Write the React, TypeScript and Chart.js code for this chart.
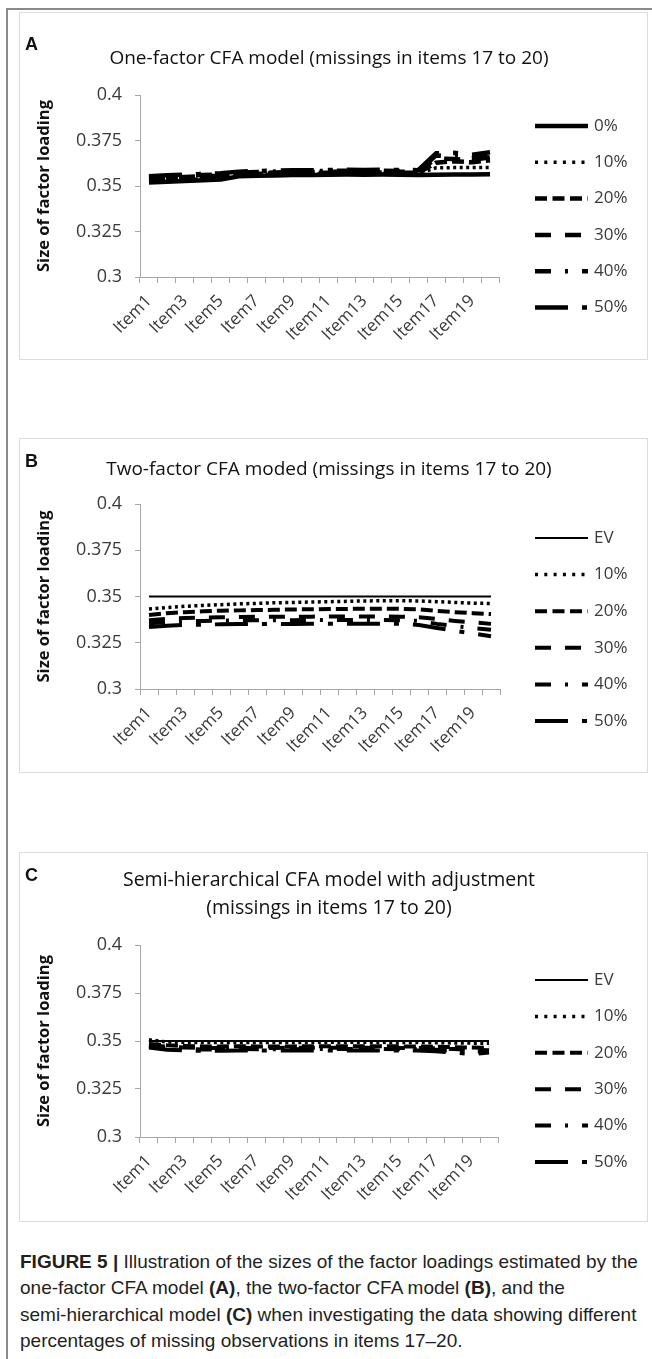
import React, { useEffect, useRef } from "react";
import { Chart, registerables } from "chart.js";

Chart.register(...registerables);

// ---------- data ----------
const items = [
  "Item1", "Item2", "Item3", "Item4", "Item5", "Item6", "Item7", "Item8", "Item9", "Item10",
  "Item11", "Item12", "Item13", "Item14", "Item15", "Item16", "Item17", "Item18", "Item19", "Item20",
];
const yTickValues = [0.3, 0.325, 0.35, 0.375, 0.4];
const yTickLabels = ["0.3", "0.325", "0.35", "0.375", "0.4"];

const legendA = ["0%", "10%", "20%", "30%", "40%", "50%"];
const legendBC = ["EV", "10%", "20%", "30%", "40%", "50%"];

// Panel A: one-factor CFA model
const oneF_0 = [0.3519, 0.3524, 0.3528, 0.3531, 0.3535, 0.3553, 0.3556, 0.3558, 0.356, 0.3561, 0.3562, 0.3563, 0.3562, 0.3563, 0.3562, 0.3561, 0.3562, 0.3563, 0.3563, 0.3564];
const oneF_10 = [0.3527, 0.3532, 0.3536, 0.3539, 0.3543, 0.3559, 0.3562, 0.3564, 0.3566, 0.3567, 0.3568, 0.3569, 0.3568, 0.3569, 0.3568, 0.3567, 0.36, 0.3601, 0.3601, 0.3602];
const oneF_20 = [0.3534, 0.3539, 0.3543, 0.3546, 0.355, 0.3564, 0.3567, 0.3569, 0.3571, 0.3572, 0.3573, 0.3574, 0.3573, 0.3574, 0.3573, 0.3572, 0.3628, 0.3636, 0.363, 0.3642];
const oneF_30 = [0.3541, 0.3546, 0.355, 0.3553, 0.3557, 0.3569, 0.3572, 0.3574, 0.3576, 0.3577, 0.3578, 0.3579, 0.3578, 0.3579, 0.3578, 0.3577, 0.3652, 0.3648, 0.3642, 0.3658];
const oneF_40 = [0.3548, 0.3553, 0.3557, 0.356, 0.3564, 0.3574, 0.3577, 0.3579, 0.3581, 0.3582, 0.3583, 0.3584, 0.3583, 0.3584, 0.3583, 0.3582, 0.3668, 0.366, 0.3652, 0.367];
const oneF_50 = [0.3554, 0.3559, 0.3563, 0.3566, 0.357, 0.3579, 0.3582, 0.3584, 0.3586, 0.3587, 0.3588, 0.3589, 0.3588, 0.3589, 0.3588, 0.3587, 0.368, 0.3682, 0.3672, 0.3686];

// Panel B: two-factor CFA model
const twoF_EV = [0.35, 0.35, 0.35, 0.35, 0.35, 0.35, 0.35, 0.35, 0.35, 0.35, 0.35, 0.35, 0.35, 0.35, 0.35, 0.35, 0.35, 0.35, 0.35, 0.35];
const twoF_10 = [0.3432, 0.344, 0.3447, 0.3452, 0.3456, 0.346, 0.3463, 0.3466, 0.3468, 0.347, 0.3472, 0.3474, 0.3476, 0.3477, 0.3477, 0.3476, 0.3472, 0.3468, 0.3464, 0.3462];
const twoF_20 = [0.34, 0.341, 0.3415, 0.342, 0.3423, 0.3425, 0.3427, 0.3428, 0.343, 0.3431, 0.3432, 0.3433, 0.3434, 0.3434, 0.3433, 0.343, 0.3422, 0.3415, 0.341, 0.3405];
const twoF_30 = [0.3372, 0.338, 0.3384, 0.3386, 0.3388, 0.3389, 0.339, 0.339, 0.3391, 0.3391, 0.3392, 0.3392, 0.3392, 0.3392, 0.3391, 0.3388, 0.3378, 0.3368, 0.336, 0.3352];
const twoF_40 = [0.3355, 0.3362, 0.3366, 0.3368, 0.337, 0.3371, 0.3371, 0.3372, 0.3372, 0.3373, 0.3373, 0.3373, 0.3373, 0.3373, 0.3372, 0.3368, 0.3352, 0.334, 0.333, 0.332];
const twoF_50 = [0.3335, 0.3342, 0.3346, 0.3348, 0.335, 0.3351, 0.3351, 0.3352, 0.3352, 0.3353, 0.3353, 0.3353, 0.3353, 0.3353, 0.3352, 0.3346, 0.333, 0.3315, 0.33, 0.3285];

// Panel C: semi-hierarchical CFA model with adjustment
const semi_EV = [0.35, 0.35, 0.35, 0.35, 0.35, 0.35, 0.35, 0.35, 0.35, 0.35, 0.35, 0.35, 0.35, 0.35, 0.35, 0.35, 0.35, 0.35, 0.35, 0.35];
const semi_10 = [0.3506, 0.3495, 0.3493, 0.3492, 0.3492, 0.3493, 0.3492, 0.3492, 0.3492, 0.3493, 0.3493, 0.3493, 0.3493, 0.3493, 0.3492, 0.3492, 0.3491, 0.349, 0.3489, 0.3488];
const semi_20 = [0.3485, 0.3478, 0.3474, 0.3472, 0.3472, 0.3473, 0.3472, 0.3472, 0.3472, 0.3473, 0.3473, 0.3473, 0.3473, 0.3473, 0.3472, 0.3472, 0.347, 0.3468, 0.3466, 0.3465];
const semi_30 = [0.3478, 0.347, 0.3466, 0.3464, 0.3464, 0.3465, 0.3464, 0.3464, 0.3465, 0.3465, 0.3465, 0.3465, 0.3465, 0.3465, 0.3464, 0.3464, 0.3462, 0.3458, 0.3455, 0.3452];
const semi_40 = [0.3472, 0.3462, 0.3458, 0.3456, 0.3456, 0.3458, 0.3457, 0.3457, 0.3457, 0.3458, 0.3458, 0.3458, 0.3458, 0.3458, 0.3457, 0.3457, 0.3454, 0.3448, 0.3444, 0.3446];
const semi_50 = [0.3466, 0.3455, 0.3451, 0.3449, 0.3449, 0.3451, 0.345, 0.345, 0.345, 0.3451, 0.3451, 0.3451, 0.3451, 0.3451, 0.345, 0.345, 0.3446, 0.344, 0.3432, 0.344];

const yAxisTitle = "Size of factor loading";
const titleA = ["One-factor CFA model (missings in items 17 to 20)"];
const titleB = ["Two-factor CFA moded (missings in items 17 to 20)"];
const titleC = ["Semi-hierarchical CFA model with adjustment", "(missings in items 17 to 20)"];

// ---------- styles ----------
const FONT = "'Open Sans', 'DejaVu Sans', sans-serif";
const AXIS = "#a6a6a6";
const TICK = "#3a3a3a";
const lineStyles = [
  { dash: [] as number[], legendDash: [] as number[] },
  { dash: [3, 3.5], legendDash: [3, 6.3] },
  { dash: [12, 5], legendDash: [12, 5.5] },
  { dash: [16, 14], legendDash: [16, 14] },
  { dash: [16, 14, 3, 14], legendDash: [16, 14, 3, 14] },
  { dash: [33, 14, 5, 14], legendDash: [33, 14, 5, 14] },
];

const sideLegend = {
  id: "sideLegend",
  afterDraw(chart: any, _args: any, opts: any) {
    const { ctx } = chart;
    ctx.save();
    chart.data.datasets.forEach((ds: any, i: number) => {
      const y = opts.top + i * opts.gap;
      ctx.beginPath();
      ctx.setLineDash(ds.legendDash || []);
      ctx.lineWidth = ds.borderWidth;
      ctx.strokeStyle = ds.borderColor;
      ctx.lineCap = "butt";
      ctx.moveTo(opts.x, y);
      ctx.lineTo(opts.x + opts.len, y);
      ctx.stroke();
      ctx.setLineDash([]);
      ctx.font = opts.font;
      ctx.fillStyle = opts.color;
      ctx.textBaseline = "middle";
      ctx.textAlign = "left";
      ctx.fillText(ds.label, opts.x + opts.len + opts.textGap, y);
    });
    ctx.restore();
  },
};

type Panel = {
  letter: string;
  title: string[];
  titleSize: number;
  labels: string[];
  series: number[][];
  widths: number[];
  box: { left: number; top: number; width: number; height: number };
  padTop: number;
  padRight: number;
  yWidth: number;
  xHeight: number;
  titleTop: number;
  legendTop: number;
  legendGap: number;
  letterTop: number;
};

const panels: Panel[] = [
  {
    letter: "A",
    title: titleA,
    titleSize: 19,
    labels: legendA,
    series: [oneF_0, oneF_10, oneF_20, oneF_30, oneF_40, oneF_50],
    widths: [4.5, 3.5, 4.5, 4.5, 4.5, 4.5],
    box: { left: 19, top: 12, width: 629, height: 348 },
    padTop: 83,
    padRight: 149,
    yWidth: 121,
    xHeight: 83,
    titleTop: 30,
    legendTop: 114,
    legendGap: 36.3,
    letterTop: 21,
  },
  {
    letter: "B",
    title: titleB,
    titleSize: 19,
    labels: legendBC,
    series: [twoF_EV, twoF_10, twoF_20, twoF_30, twoF_40, twoF_50],
    widths: [2, 3.5, 4, 4, 4, 4],
    box: { left: 19, top: 438, width: 629, height: 335 },
    padTop: 66,
    padRight: 148,
    yWidth: 121,
    xHeight: 84,
    titleTop: 15,
    legendTop: 100,
    legendGap: 36.6,
    letterTop: 12,
  },
  {
    letter: "C",
    title: titleC,
    titleSize: 19.5,
    labels: legendBC,
    series: [semi_EV, semi_10, semi_20, semi_30, semi_40, semi_50],
    widths: [2, 3.5, 4, 4, 4, 4],
    box: { left: 19, top: 852, width: 629, height: 370 },
    padTop: 93,
    padRight: 150,
    yWidth: 121,
    xHeight: 85,
    titleTop: 12,
    legendTop: 128,
    legendGap: 36.4,
    letterTop: 12,
  },
];

function PanelChart({ p }: { p: Panel }) {
  const ref = useRef<HTMLCanvasElement | null>(null);
  useEffect(() => {
    if (!ref.current) return;
    const datasets = p.series.map((data, i) => ({
      label: p.labels[i],
      data,
      borderColor: "#000000",
      backgroundColor: "#000000",
      borderWidth: p.widths[i],
      borderDash: lineStyles[i].dash,
      legendDash: lineStyles[i].legendDash,
      pointRadius: 0,
      pointHoverRadius: 0,
      tension: 0,
      fill: false,
    }));
    const chart = new Chart(ref.current, {
      type: "line",
      data: { labels: items, datasets: datasets as any },
      plugins: [sideLegend as any],
      options: {
        animation: false,
        responsive: false,
        devicePixelRatio: 1,
        events: [],
        layout: { padding: { left: 0, right: p.padRight, top: p.padTop, bottom: 0 } },
        plugins: {
          legend: { display: false },
          tooltip: { enabled: false },
          title: { display: false },
          sideLegend: {
            x: 516,
            len: 53,
            textGap: 6,
            top: p.legendTop,
            gap: p.legendGap,
            font: `17px ${FONT}`,
            color: TICK,
          },
        } as any,
        scales: {
          x: {
            type: "category",
            offset: true,
            grid: { offset: true, drawOnChartArea: false, tickLength: 6, color: AXIS },
            border: { color: AXIS, width: 1 },
            ticks: {
              autoSkip: false,
              minRotation: 45,
              maxRotation: 45,
              padding: 8,
              color: TICK,
              font: { family: FONT, size: 17 },
              callback: (_v: any, i: number) => (i % 2 === 0 ? items[i] : ""),
            },
            afterFit: (s: any) => {
              s.height = p.xHeight;
            },
          },
          y: {
            min: 0.3,
            max: 0.4,
            afterBuildTicks: (s: any) => {
              s.ticks = yTickValues.map((v) => ({ value: v }));
            },
            grid: { drawOnChartArea: false, tickLength: 5, color: AXIS },
            border: { color: AXIS, width: 1 },
            ticks: {
              padding: 13,
              color: TICK,
              font: { family: FONT, size: 18 },
              callback: (v: any) => {
                let best = 0;
                yTickValues.forEach((t, k) => {
                  if (Math.abs(t - v) < Math.abs(yTickValues[best] - v)) best = k;
                });
                return yTickLabels[best];
              },
            },
            title: {
              display: true,
              text: yAxisTitle,
              color: "#111111",
              font: { family: FONT, size: 16.5, weight: "bold" },
              padding: { top: 15, bottom: 0 },
            },
            afterFit: (s: any) => {
              s.width = p.yWidth;
            },
          },
        },
      } as any,
    });
    return () => chart.destroy();
  }, [p]);

  return (
    <div
      style={{
        position: "absolute",
        left: p.box.left,
        top: p.box.top,
        width: p.box.width,
        height: p.box.height,
        border: "1px solid #dcdcdc",
        boxSizing: "border-box",
        background: "#ffffff",
      }}
    >
      <canvas
        ref={ref}
        width={p.box.width}
        height={p.box.height}
        style={{ position: "absolute", left: -1, top: -1, display: "block" }}
      />
      <div
        style={{
          position: "absolute",
          left: 9,
          width: 600,
          top: p.titleTop,
          textAlign: "center",
          fontFamily: FONT,
          fontSize: p.titleSize,
          lineHeight: "28px",
          color: "#111111",
          whiteSpace: "nowrap",
        }}
      >
        {p.title.map((t, i) => (
          <div key={i}>{t}</div>
        ))}
      </div>
      <div
        style={{
          position: "absolute",
          left: 5,
          top: p.letterTop,
          fontFamily: "'Liberation Sans', Arial, sans-serif",
          fontWeight: "bold",
          fontSize: 18,
          color: "#111",
        }}
      >
        {p.letter}
      </div>
    </div>
  );
}

export default function App() {
  return (
    <div
      style={{
        position: "absolute",
        left: 0,
        top: 0,
        width: 652,
        height: 1359,
        background: "#ffffff",
        overflow: "hidden",
      }}
    >
      <div
        style={{
          position: "absolute",
          left: 6,
          top: 8,
          width: 700,
          height: 1400,
          borderLeft: "2px solid #8a8a8a",
          borderTop: "2px solid #8a8a8a",
        }}
      />
      {panels.map((p) => (
        <PanelChart key={p.letter} p={p} />
      ))}
      <div
        style={{
          position: "absolute",
          left: 20,
          top: 1249,
          fontFamily: "'Liberation Sans', Arial, sans-serif",
          fontSize: 19,
          lineHeight: "26.3px",
          color: "#231f20",
          whiteSpace: "nowrap",
        }}
      >
        <b>FIGURE 5 |</b> Illustration of the sizes of the factor loadings estimated by the
        <br />
        one-factor CFA model <b>(A)</b>, the two-factor CFA model <b>(B)</b>, and the
        <br />
        semi-hierarchical model <b>(C)</b> when investigating the data showing different
        <br />
        percentages of missing observations in items 17–20.
      </div>
    </div>
  );
}
